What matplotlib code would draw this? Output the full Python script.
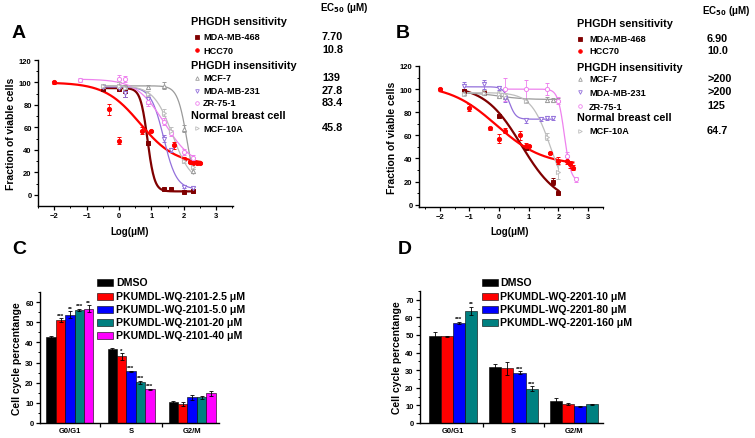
import numpy as np
import matplotlib
matplotlib.use('Agg')
import matplotlib.pyplot as plt
from matplotlib.lines import Line2D
from matplotlib.patches import Rectangle

plt.rcParams['font.family'] = ['Liberation Sans', 'DejaVu Sans']
plt.rcParams['font.weight'] = 'bold'
plt.rcParams['axes.linewidth'] = 1.0

# ---------------- data ----------------
cell_lines = ['MDA-MB-468', 'HCC70', 'MCF-7', 'MDA-MB-231', 'ZR-75-1', 'MCF-10A']
line_colors = ['#800000', '#ff0000', '#9a9a9a', '#9370db', '#ee82ee', '#bdbdbd']
line_markers = ['s', 'o', '^', 'v', 'o', '>']
line_filled = [True, True, False, False, False, False]
line_widths = [1.6, 1.6, 0.9, 0.9, 0.9, 0.9]

groups = ['PHGDH sensitivity', 'PHGDH insensitivity', 'Normal breast cell']

# Panel A (PKUMDL-WQ-2101)
A_x = {
    'MDA-MB-468': [-0.5, 0, 0.2, 0.9, 1.4, 1.6, 2.0, 2.3],
    'HCC70': [-2, -0.3, 0, 0.7, 1.0, 1.7, 2.0, 2.2, 2.3, 2.4, 2.5],
    'MCF-7': [-0.5, 0, 0.2, 0.9, 1.4, 2.0, 2.3],
    'MDA-MB-231': [-0.5, 0, 0.2, 0.9, 1.4, 1.6, 2.0, 2.3],
    'ZR-75-1': [-1.2, 0, 0.2, 0.9, 1.4, 1.6, 2.0, 2.3],
    'MCF-10A': [-0.5, 0, 0.2, 0.9, 1.4, 1.6, 2.0, 2.3],
}
A_y = {
    'MDA-MB-468': [94, 94, 92, 46, 5, 5, 2.5, 3],
    'HCC70': [100, 76, 48, 57, 57, 44, 32, 29, 28, 28, 28],
    'MCF-7': [97, 97, 96, 96, 97, 59, 21],
    'MDA-MB-231': [96, 95, 91, 85, 50, 40, 7, 6],
    'ZR-75-1': [102, 103, 103, 83, 65, 55, 38, 33],
    'MCF-10A': [97, 97, 95, 90, 73, 57, 30, 25],
}
A_err = {
    'MDA-MB-468': [2, 2, 5, 2, 1, 1, 1, 1],
    'HCC70': [1, 5, 3, 3, 1, 3, 2, 1, 1, 1, 1],
    'MCF-7': [2, 3, 2, 2, 3, 3, 2],
    'MDA-MB-231': [2, 2, 4, 4, 3, 2, 1, 1],
    'ZR-75-1': [2, 4, 3, 4, 3, 3, 3, 2],
    'MCF-10A': [2, 3, 2, 2, 3, 3, 2, 2],
}
# fitted logistic curve parameters: top, bottom, log-midpoint, hill
A_fit = {
    'MDA-MB-468': (95, 3, 0.88, 4.0),
    'HCC70': (100, 27, 0.65, 0.8),
    'MCF-7': (97, 0, 2.1, 3.0),
    'MDA-MB-231': (96, 5, 1.38, 2.2),
    'ZR-75-1': (103, 25, 1.4, 1.0),
    'MCF-10A': (97, 10, 1.65, 1.5),
}
A_ec50 = ['7.70', '10.8', '139', '27.8', '83.4', '45.8']

# Panel B (PKUMDL-WQ-2201)
B_x = {
    'MDA-MB-468': [-1.2, -0.5, 0, 0.9, 1.8, 2.0],
    'HCC70': [-2, -1, -0.3, 0, 0.2, 0.7, 0.9, 1.0, 1.7, 2.0, 2.3, 2.4, 2.5],
    'MCF-7': [-1.2, -0.5, 0, 0.2, 0.9, 1.6, 1.8, 2.0],
    'MDA-MB-231': [-1.2, -0.5, 0, 0.2, 0.9, 1.4, 1.6, 1.8],
    'ZR-75-1': [0.2, 0.9, 1.6, 2.0, 2.3, 2.6],
    'MCF-10A': [-1.2, -0.5, 0, 0.2, 0.9, 1.6, 2.0],
}
B_y = {
    'MDA-MB-468': [98, 97, 77, 49, 20, 10],
    'HCC70': [100, 84, 66, 57, 64, 60, 51, 51, 45, 38, 38, 35, 32],
    'MCF-7': [97, 97, 94, 93, 91, 91, 91, 91],
    'MDA-MB-231': [103, 104, 101, 92, 73, 74, 75, 75],
    'ZR-75-1': [100, 100, 100, 90, 42, 22],
    'MCF-10A': [96, 97, 96, 95, 90, 59, 28],
}
B_err = {
    'MDA-MB-468': [2, 2, 1, 2, 3, 1],
    'HCC70': [1, 3, 1, 4, 2, 4, 2, 1, 1, 3, 3, 3, 2],
    'MCF-7': [2, 2, 1, 1, 1, 2, 1, 1],
    'MDA-MB-231': [3, 4, 2, 3, 2, 2, 2, 2],
    'ZR-75-1': [10, 8, 5, 3, 4, 2],
    'MCF-10A': [2, 2, 2, 2, 2, 3, 6],
}
B_fit = {
    'MDA-MB-468': (103, 0, 0.75, 0.7),
    'HCC70': (104, 34, -0.1, 0.55),
    'MCF-7': (97, 91, 0.0, 1.0),
    'MDA-MB-231': (102, 74, 0.35, 4.0),
    'ZR-75-1': (100, 20, 2.2, 4.0),
    'MCF-10A': (97, 0, 1.75, 1.3),
}
B_ec50 = ['6.90', '10.0', '>200', '>200', '125', '64.7']

# Panel C (cell cycle, PKUMDL-WQ-2101)
phases = ['G0/G1', 'S', 'G2/M']
C_labels = ['DMSO', 'PKUMDL-WQ-2101-2.5 \u03bcM', 'PKUMDL-WQ-2101-5.0 \u03bcM',
            'PKUMDL-WQ-2101-20 \u03bcM', 'PKUMDL-WQ-2101-40 \u03bcM']
C_colors = ['#000000', '#ff0000', '#0000ff', '#008080', '#ff00ff']
C_vals = [[42.7, 36.6, 10.3],
          [51.0, 33.0, 9.6],
          [53.7, 25.6, 12.8],
          [56.3, 20.2, 12.7],
          [56.8, 16.7, 14.8]]
C_errs = [[0.4, 0.4, 0.6],
          [1.0, 1.5, 1.0],
          [1.8, 0.3, 1.2],
          [0.5, 0.7, 0.8],
          [1.6, 0.3, 1.3]]
C_stars = [['', '', ''],
           ['***', '*', ''],
           ['**', '***', ''],
           ['***', '***', ''],
           ['**', '***', '']]

# Panel D (cell cycle, PKUMDL-WQ-2201)
D_labels = ['DMSO', 'PKUMDL-WQ-2201-10 \u03bcM', 'PKUMDL-WQ-2201-80 \u03bcM',
            'PKUMDL-WQ-2201-160 \u03bcM']
D_colors = ['#000000', '#ff0000', '#0000ff', '#008080']
D_vals = [[49.5, 32.0, 12.7],
          [49.2, 31.0, 10.8],
          [56.8, 28.5, 9.4],
          [63.7, 19.5, 10.6]]
D_errs = [[2.0, 1.3, 1.5],
          [0.4, 3.8, 0.7],
          [0.8, 0.8, 0.4],
          [2.3, 1.5, 0.4]]
D_stars = [['', '', ''],
           ['', '', ''],
           ['***', '***', ''],
           ['**', '***', '']]

# ---------------- figure ----------------
W, H = 755, 439
fig = plt.figure(figsize=(W / 100, H / 100), dpi=100)


def px_axes(l, t, r, b):
    return fig.add_axes([l / W, 1 - b / H, (r - l) / W, (b - t) / H])


def ftext(x, y, s, **kw):
    fig.text(x / W, 1 - y / H, s, **kw)


def style_axes(ax):
    ax.spines['top'].set_visible(False)
    ax.spines['right'].set_visible(False)
    ax.tick_params(which='major', direction='out', length=3, width=0.9,
                   labelsize=5.5, pad=1.5)
    ax.tick_params(which='minor', direction='out', length=1.6, width=0.7)
    for lab in ax.get_xticklabels() + ax.get_yticklabels():
        lab.set_fontweight('bold')


def logistic(x, top, bottom, mid, hill):
    return bottom + (top - bottom) / (1 + 10 ** (hill * (x - mid)))


def dose_panel(ax, xs, ys, errs, fits, xlim, ylim):
    for name, c, m, f, lw in zip(cell_lines, line_colors, line_markers,
                                 line_filled, line_widths):
        x = np.array(xs[name])
        xx = np.linspace(x.min(), x.max(), 200)
        ax.plot(xx, logistic(xx, *fits[name]), color=c, lw=lw, zorder=2)
        ax.errorbar(x, ys[name], yerr=errs[name], fmt=m, color=c,
                    mfc=c if f else 'white', mec=c, ms=3, mew=0.7,
                    elinewidth=0.6, capsize=1.5, capthick=0.6, zorder=3)
    ax.set_xlim(*xlim)
    ax.set_ylim(*ylim)
    ax.set_xticks(range(-2, 4))
    ax.set_xticks(np.arange(-2.5, 3.6, 0.5), minor=True)
    ax.set_yticks(range(0, 121, 20))
    ax.set_yticks(range(0, 121, 10), minor=True)
    style_axes(ax)


def curve_legend(xh, xm, xt, xv, xec, yec, head_y, item_y, ec50):
    ftext(xec, yec, 'EC$_{50}$ (\u03bcM)', fontsize=7, fontweight='bold',
          va='center', ha='left')
    for g, y in zip(groups, head_y):
        ftext(xh, y, g, fontsize=7.8, fontweight='bold', va='center')
    for name, c, m, f, y, v in zip(cell_lines, line_colors, line_markers,
                                   line_filled, item_y, ec50):
        fig.add_artist(Line2D([xm / W], [1 - y / H], marker=m, color=c,
                              mfc=c if f else 'white', mec=c, ms=2.6, mew=0.6,
                              transform=fig.transFigure))
        ftext(xt, y, name, fontsize=6.6, fontweight='bold', va='center')
        ftext(xv, y - 1, v, fontsize=7.8, fontweight='bold', va='center')


# Panel A
axA = px_axes(38, 61, 233, 207)
dose_panel(axA, A_x, A_y, A_err, A_fit, (-2.47, 3.52), (-10, 120))
axA.set_ylabel('Fraction of viable cells', fontsize=7.5, fontweight='bold',
               labelpad=2)
ftext(130, 232, 'Log(\u03bcM)', fontsize=7, fontweight='bold', ha='center',
      va='center')
ftext(12, 33, 'A', fontsize=14, fontweight='bold', va='center')
curve_legend(191, 197, 203, 322, 320, 8, [22, 66, 116],
             [38, 51, 79, 92, 104, 129], A_ec50)

# Panel B
axB = px_axes(419, 67, 603, 208)
dose_panel(axB, B_x, B_y, B_err, B_fit, (-2.7, 3.45), (-2, 120))
axB.set_ylabel('Fraction of viable cells', fontsize=7.5, fontweight='bold',
               labelpad=2)
ftext(510, 232, 'Log(\u03bcM)', fontsize=7, fontweight='bold', ha='center',
      va='center')
ftext(396, 33, 'B', fontsize=14, fontweight='bold', va='center')
curve_legend(577, 580, 589, 707, 702, 11, [24, 68, 118],
             [40, 52, 80, 93, 107, 132], B_ec50)


def bar_panel(ax, vals, errs, stars, colors, width, xlim, ylim, ystep):
    n = len(vals)
    pos = np.arange(1, len(phases) + 1)
    for i in range(n):
        xs = pos + (i - (n - 1) / 2) * width
        ax.bar(xs, vals[i], width=width, color=colors[i], edgecolor='black',
               linewidth=0.4, zorder=2)
        ax.errorbar(xs, vals[i], yerr=errs[i], fmt='none', ecolor='black',
                    elinewidth=0.6, capsize=1.5, capthick=0.6, zorder=3)
        for x, v, e, s in zip(xs, vals[i], errs[i], stars[i]):
            if s:
                ax.text(x, v + e + 0.3, s, fontsize=4.5, fontweight='bold',
                        ha='center', va='bottom')
    ax.set_xlim(*xlim)
    ax.set_ylim(*ylim)
    ax.set_xticks([1.5, 2.5])
    ax.set_xticklabels([])
    ax.set_xticks(pos, minor=True)
    ax.set_xticklabels(phases, minor=True)
    ax.set_yticks(np.arange(0, ylim[1] + 0.1, ystep))
    ax.set_yticks(np.arange(0, ylim[1] + 0.1, ystep / 2), minor=True)
    style_axes(ax)
    ax.tick_params(axis='x', which='minor', length=0, labelsize=5.5, pad=3)
    for lab in ax.get_xticklabels(minor=True):
        lab.set_fontweight('bold')
    ax.set_ylabel('Cell cycle percentange', fontsize=7.5, fontweight='bold',
                  labelpad=2)


def bar_legend(labels, colors, xp, xt, ys):
    for lab, c, y in zip(labels, colors, ys):
        fig.add_artist(Rectangle((xp / W, 1 - (y + 3.5) / H), 16 / W, 7 / H,
                                 facecolor=c, edgecolor='black', lw=0.4,
                                 transform=fig.transFigure))
        ftext(xt, y, lab, fontsize=7.6, fontweight='bold', va='center')


# Panel C
axC = px_axes(40, 293, 219, 424)
bar_panel(axC, C_vals, C_errs, C_stars, C_colors, 0.154, (0.51, 3.44),
          (0, 65), 10)
ftext(12, 250, 'C', fontsize=14, fontweight='bold', va='center')
bar_legend(C_labels, C_colors, 97, 116, [283, 297, 310, 323, 336])

# Panel D
axD = px_axes(420, 292, 603, 424)
bar_panel(axD, D_vals, D_errs, D_stars, D_colors, 0.2, (0.455, 3.48),
          (0, 75), 10)
ftext(398, 250, 'D', fontsize=14, fontweight='bold', va='center')
bar_legend(D_labels, D_colors, 482, 500, [283, 297, 310, 323])

fig.savefig('out.png', dpi=100)
